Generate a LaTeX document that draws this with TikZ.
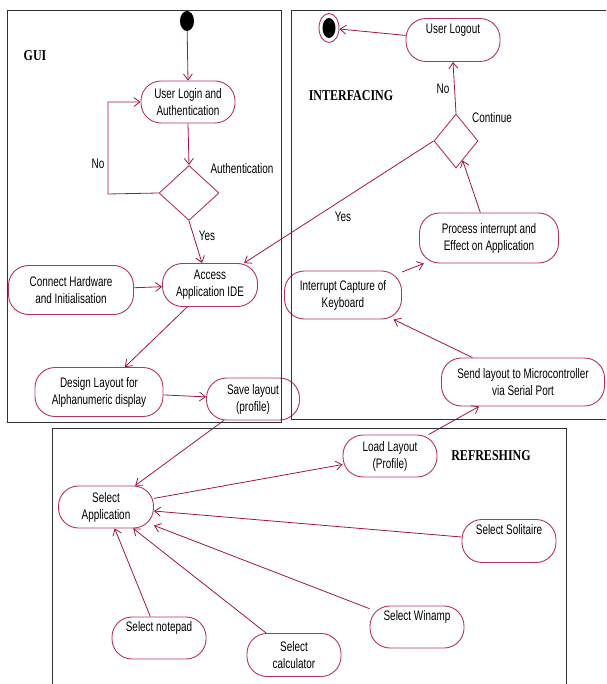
\documentclass[tikz,border=0pt]{standalone}
\usepackage{fontspec}
\setmainfont{Liberation Sans}[FakeStretch=0.72]
\newfontfamily\titlefont{Liberation Serif Bold}[FakeStretch=0.8]
\usetikzlibrary{shapes.geometric,arrows.meta}
\definecolor{nodec}{RGB}{180,50,95}
\definecolor{linec}{RGB}{160,20,70}
\definecolor{framec}{RGB}{50,50,50}
\begin{document}
\begin{tikzpicture}[x=1pt,y=-1pt,
 act/.style={draw=nodec, line width=0.9pt, rectangle, rounded corners=20pt, inner sep=0pt, align=center, font=\fontsize{13.8}{17}\selectfont, minimum width=94pt, minimum height=42pt},
 dec/.style={draw=nodec, line width=0.9pt, diamond, inner sep=0pt},
 flow/.style={draw=linec, line width=0.8pt, -{Straight Barb[length=6pt,width=9pt]}},
 lbl/.style={font=\fontsize{13.8}{15}\selectfont, inner sep=0pt},
 ttl/.style={font=\titlefont\fontsize{15}{18}\selectfont, inner sep=0pt},
 frame/.style={draw=framec, line width=0.9pt}
]
\useasboundingbox (0,0) rectangle (606,684);

% GUI
\node[fill=black, ellipse, minimum width=14pt, minimum height=20pt, inner sep=0pt] (start) at (187,21) {};
\node[act] (login) at (188,102) {User Login and\\Authentication};
\node[dec, minimum width=60pt, minimum height=55pt] (auth) at (189,193) {};
\node[act, minimum width=95pt, minimum height=43pt] (access) at (210,285) {Access\\Application IDE};
\node[act, minimum width=125pt, minimum height=49pt] (conn) at (71,290) {Connect Hardware\\and Initialisation};
\node[act, minimum width=128pt, minimum height=49pt] (design) at (99,392) {Design Layout for\\Alphanumeric display};
\node[act, minimum width=93pt] (save) at (253,399) {Save layout\\(profile)};

% INTERFACING
\node[draw=nodec, line width=0.9pt, ellipse, minimum width=20pt, minimum height=29pt, inner sep=0pt] (endo) at (329,28) {};
\node[fill=black, ellipse, minimum width=13pt, minimum height=20pt, inner sep=0pt] (endi) at (329,28) {};
\node[act, minimum height=43pt] (logout) at (453,40) {User Logout\\\strut};
\node[dec, minimum width=44pt, minimum height=54pt] (cont) at (456,141) {};
\node[act, minimum width=139pt, minimum height=50pt] (process) at (489,238) {Process interrupt and\\Effect on Application};
\node[act, minimum width=117pt, minimum height=48pt] (interrupt) at (343,295) {Interrupt Capture of\\Keyboard};
\node[act, minimum width=163pt, minimum height=48pt] (send) at (523,382) {Send layout to Microcontroller\\via Serial Port};

% REFRESHING
\node[act] (load) at (390,456) {Load Layout\\(Profile)};
\node[act, minimum width=95pt] (selapp) at (106,507) {Select\\Application};
\node[act, minimum height=43pt] (solit) at (509,541) {Select Solitaire\\\strut};
\node[act] (winamp) at (417,627) {Select Winamp\\\strut};
\node[act] (notepad) at (159,638) {Select notepad\\\strut};
\node[act, minimum height=43pt] (calc) at (294,655) {Select\\calculator};

% labels
\node[ttl] (tgui) at (35,56) {GUI};
\node[ttl] (tint) at (351,96) {INTERFACING};
\node[ttl] (tref) at (491,456) {REFRESHING};
\node[lbl] (lno1) at (98,164) {No};
\node[lbl] (lauth) at (242,169) {Authentication};
\node[lbl] (lyes1) at (207,236) {Yes};
\node[lbl] (lno2) at (443,89) {No};
\node[lbl] (lcont) at (492,118) {Continue};
\node[lbl] (lyes2) at (343,217) {Yes};

% connectors
\coordinate (nocorner) at (108,194);
\draw[flow] (start) -- (login.north);
\draw[flow] (login.south) -- (auth.north);
\draw[flow] (auth.west) -- (nocorner) |- (login.west);
\draw[flow] (auth.south) -- (access.110);
\draw[flow] (conn) -- (access);
\draw[flow] (access) -- (design);
\draw[flow] (design) -- (save);
\draw[flow] (save) -- (selapp);
\draw[flow] (selapp) -- (load);
\draw[flow] (load) -- (send);
\draw[flow] (send) -- (interrupt);
\draw[flow] (interrupt) -- (process);
\draw[flow] (process) -- (cont);
\draw[flow] (cont.north) -- (logout.south);
\draw[flow] (logout) -- (endo);
\draw[flow] (cont.west) -- (access);
\draw[flow] (solit) -- (selapp);
\draw[flow] (winamp) -- (selapp);
\draw[flow] (notepad) -- (selapp);
\draw[flow] (calc) -- (selapp);

% frames
\draw[frame] (7,10) rectangle (281,422);
\draw[frame] (606,10) -- (291,10) -- (291,419) -- (606,419);
\draw[frame] (52,684) -- (52,428) -- (566,428) -- (566,684);
\end{tikzpicture}
\end{document}
